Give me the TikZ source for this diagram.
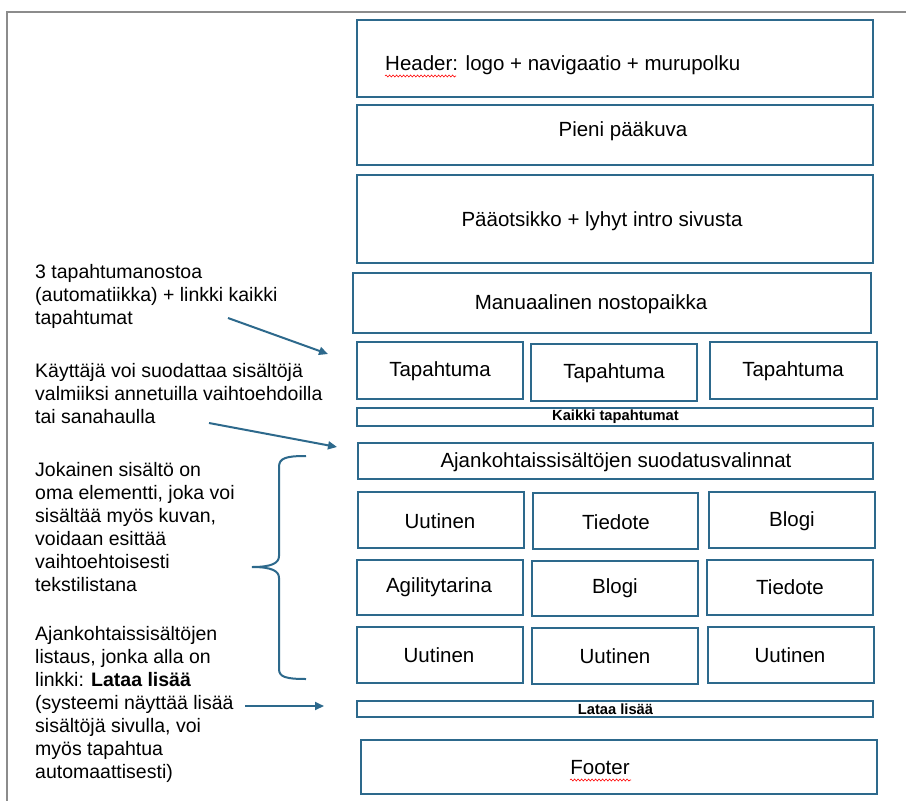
\documentclass[tikz,border=0pt]{standalone}
\usepackage{fontspec}
\setmainfont{Liberation Sans}
\usetikzlibrary{arrows.meta,decorations.pathmorphing}
\definecolor{boxblue}{RGB}{45,105,140}
\definecolor{framegray}{RGB}{140,140,140}
\newcommand\pbox[5]{\node[boxst, minimum width={#4-#2}, minimum height={#5-#3}] (#1) at ({(#2+#4)/2},{(#3+#5)/2}) {};}
\begin{document}
\begin{tikzpicture}[x=1pt,y=-1pt,
  boxst/.style={draw=boxblue, line width=2pt, rectangle, inner sep=0pt},
  txt/.style={font=\fontsize{20.5}{24}\selectfont, inner sep=0pt},
  ltxt/.style={font=\fontsize{19.5}{23}\selectfont, inner sep=0pt, align=left, anchor=north west},
  btxt/.style={font=\fontsize{14.7}{17}\selectfont\bfseries, inner sep=0pt},
  arr/.style={draw=boxblue, line width=2pt, -{Triangle[length=9pt,width=8pt]}},
  squig/.style={draw=red, line width=0.6pt, decorate, decoration={snake, segment length=3.5pt, amplitude=1pt}}
]
\useasboundingbox (0,0) rectangle (906,801);
\fill[white] (0,0) rectangle (906,801);
\draw[framegray, line width=2pt] (7,801) -- (7,12) -- (906,12);

% boxes
\pbox{header}{357}{20}{873}{97}
\pbox{pieni}{357}{105}{873}{165}
\pbox{otsikko}{357}{175}{873}{263}
\pbox{manu}{353}{273}{871}{333}
\pbox{tap1}{357}{342}{523}{399}
\pbox{tap2}{531}{344}{697}{401}
\pbox{tap3}{710}{342}{877}{399}
\pbox{kaikki}{357}{408}{873}{426}
\pbox{suod}{358}{443}{873}{479}
\pbox{r1a}{358}{492}{524}{548}
\pbox{r1b}{533}{493}{698}{549}
\pbox{r1c}{709}{492}{875}{548}
\pbox{r2a}{357}{560}{523}{615}
\pbox{r2b}{532}{561}{698}{616}
\pbox{r2c}{707}{560}{873}{615}
\pbox{r3a}{357}{627}{523}{683}
\pbox{r3b}{532}{628}{698}{684}
\pbox{r3c}{708}{627}{874}{683}
\pbox{lataa}{357}{701}{873}{717}
\pbox{footer}{361}{740}{877}{794}

% box texts
\node[txt, anchor=west] (theader) at (385,65) {Header: logo + navigaatio + murupolku};
\draw[squig] (385,76) -- (456,76);
\node[txt] (tpieni) at (623,131) {Pieni pääkuva};
\node[txt] (totsikko) at (602,221) {Pääotsikko + lyhyt intro sivusta};
\node[txt] (tmanu) at (591,304) {Manuaalinen nostopaikka};
\node[txt] (ttap1) at (440,371) {Tapahtuma};
\node[txt] (ttap2) at (614,373) {Tapahtuma};
\node[txt] (ttap3) at (793,371) {Tapahtuma};
\node[btxt] (tkaikki) at (615.5,416.5) {Kaikki tapahtumat};
\node[txt] (tsuod) at (616,462) {Ajankohtaissisältöjen suodatusvalinnat};
\node[txt] (tr1a) at (440,521) {Uutinen};
\node[txt] (tr1b) at (616,522) {Tiedote};
\node[txt] (tr1c) at (792,521) {Blogi};
\node[txt] (tr2a) at (439,587) {Agilitytarina};
\node[txt] (tr2b) at (615,588) {Blogi};
\node[txt] (tr2c) at (790,587) {Tiedote};
\node[txt] (tr3a) at (439,655) {Uutinen};
\node[txt] (tr3b) at (615,656) {Uutinen};
\node[txt] (tr3c) at (790,655) {Uutinen};
\node[btxt] (tlataa) at (615.5,709) {Lataa lisää};
\node[txt] (tfooter) at (600,768) {Footer};
\draw[squig] (570,780) -- (631,780);

% left annotations
\node[ltxt] (n1) at (35,264) {3 tapahtumanostoa\\(automatiikka) + linkki kaikki\\tapahtumat};
\node[ltxt] (n2) at (35,363) {Käyttäjä voi suodattaa sisältöjä\\valmiiksi annetuilla vaihtoehdoilla\\tai sanahaulla};
\node[ltxt] (n3) at (35,462) {Jokainen sisältö on\\oma elementti, joka voi\\sisältää myös kuvan,\\voidaan esittää\\vaihtoehtoisesti\\tekstilistana};
\node[ltxt] (n4) at (35,626) {Ajankohtaissisältöjen\\listaus, jonka alla on\\linkki: \textbf{Lataa lisää}\\(systeemi näyttää lisää\\sisältöjä sivulla, voi\\myös tapahtua\\automaattisesti)};

% arrows
\coordinate (a1s) at (228,318);
\coordinate (a1e) at (328,354);
\coordinate (a2s) at (209,423);
\coordinate (a2e) at (337,447);
\coordinate (a3s) at (245,706);
\coordinate (a3e) at (324,706);
\draw[arr] (a1s) -- (a1e);
\draw[arr] (a2s) -- (a2e);
\draw[arr] (a3s) -- (a3e);

% brace
\draw[boxblue, line width=2pt] (306,456) .. controls (286,456) and (279,458) .. (279,467) -- (279,556) .. controls (279,563) and (272,567) .. (252,567) .. controls (272,567) and (279,571) .. (279,578) -- (279,669) .. controls (279,677) and (286,679) .. (306,679);
\end{tikzpicture}
\end{document}
